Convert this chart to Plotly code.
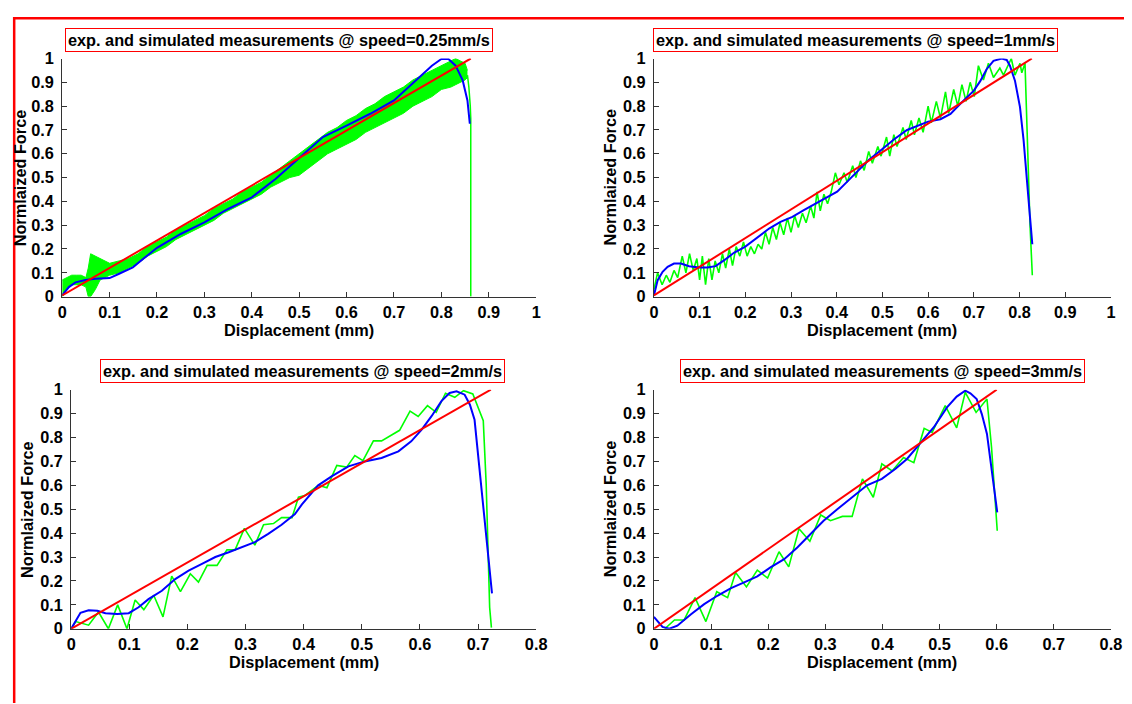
import plotly.graph_objects as go

# ---- speed = 0.25 mm/s (dense noisy experiment, drawn as an envelope band) ----
band_x_025 = [0.00, 0.01, 0.02, 0.03, 0.04, 0.05, 0.055, 0.06, 0.07, 0.08, 0.09, 0.10,
              0.12, 0.14, 0.16, 0.18, 0.20, 0.22, 0.24, 0.26, 0.28, 0.30,
              0.32, 0.34, 0.36, 0.38, 0.40, 0.42, 0.44, 0.46, 0.48, 0.50,
              0.52, 0.54, 0.56, 0.58, 0.60, 0.62, 0.64, 0.66, 0.68, 0.70,
              0.72, 0.74, 0.76, 0.78, 0.80, 0.82, 0.83, 0.84, 0.85, 0.855]
band_hi_025 = [0.07, 0.08, 0.09, 0.09, 0.09, 0.08, 0.12, 0.18, 0.17, 0.16, 0.15, 0.14,
               0.15, 0.16, 0.18, 0.21, 0.23, 0.25, 0.28, 0.30, 0.32, 0.34,
               0.37, 0.39, 0.41, 0.44, 0.46, 0.48, 0.51, 0.54, 0.57, 0.60,
               0.63, 0.66, 0.69, 0.71, 0.74, 0.76, 0.79, 0.81, 0.84, 0.86,
               0.88, 0.91, 0.93, 0.95, 0.97, 0.99, 1.00, 0.99, 0.98, 0.95]
band_lo_025 = [0.00, 0.03, 0.05, 0.05, 0.05, 0.04, 0.00, 0.00, 0.03, 0.07, 0.08, 0.09,
               0.10, 0.12, 0.14, 0.17, 0.19, 0.21, 0.24, 0.26, 0.28, 0.30,
               0.32, 0.35, 0.37, 0.39, 0.41, 0.43, 0.46, 0.48, 0.50, 0.51,
               0.54, 0.57, 0.60, 0.62, 0.64, 0.66, 0.69, 0.71, 0.73, 0.75,
               0.77, 0.80, 0.82, 0.84, 0.87, 0.88, 0.89, 0.90, 0.91, 0.92]
tail_x_025 = [0.855, 0.858, 0.861, 0.862, 0.862]
tail_y_025 = [0.93, 0.88, 0.80, 0.75, 0.0]
sim_x_025 = [0, 0.014, 0.028, 0.049, 0.07, 0.1, 0.119, 0.149, 0.175, 0.2, 0.25, 0.3, 0.35,
             0.4, 0.45, 0.5, 0.55, 0.6, 0.65, 0.7, 0.75, 0.78, 0.8, 0.815, 0.83, 0.845,
             0.855, 0.86]
sim_y_025 = [0.005, 0.04, 0.06, 0.07, 0.075, 0.078, 0.095, 0.123, 0.165, 0.205, 0.263,
             0.312, 0.368, 0.417, 0.494, 0.58, 0.67, 0.718, 0.768, 0.824, 0.914, 0.97,
             0.998, 0.998, 0.97, 0.908, 0.824, 0.726]
fit_x_025 = [0, 0.862]
fit_y_025 = [0.005, 1.0]

# ---- speed = 1 mm/s ----
exp_x_1 = [0.000, 0.008, 0.018, 0.027, 0.035, 0.044, 0.052, 0.062, 0.070, 0.078,
           0.086, 0.094, 0.100, 0.106, 0.113, 0.120, 0.127, 0.134, 0.142, 0.150,
           0.157, 0.165, 0.172, 0.180, 0.188, 0.196, 0.204, 0.212, 0.220, 0.228,
           0.236, 0.244, 0.252, 0.260, 0.268, 0.276, 0.284, 0.292, 0.300, 0.308,
           0.316, 0.325, 0.333, 0.343, 0.350, 0.357, 0.364, 0.372, 0.380, 0.388,
           0.397, 0.405, 0.416, 0.423, 0.435, 0.442, 0.452, 0.460, 0.470, 0.478,
           0.490, 0.497, 0.509, 0.516, 0.525, 0.532, 0.545, 0.552, 0.563, 0.570,
           0.580, 0.589, 0.600, 0.607, 0.618, 0.627, 0.638, 0.645, 0.656, 0.665,
           0.674, 0.683, 0.692, 0.701, 0.710, 0.721, 0.732, 0.743, 0.757, 0.765,
           0.782, 0.790, 0.801, 0.805, 0.812, 0.815, 0.819, 0.823, 0.828]
exp_y_1 = [0.03, 0.10, 0.05, 0.09, 0.06, 0.11, 0.08, 0.17, 0.10, 0.18,
           0.11, 0.16, 0.07, 0.17, 0.05, 0.16, 0.07, 0.15, 0.10, 0.18,
           0.12, 0.20, 0.13, 0.21, 0.17, 0.23, 0.17, 0.21, 0.18, 0.22,
           0.20, 0.27, 0.22, 0.29, 0.24, 0.31, 0.26, 0.33, 0.27, 0.34,
           0.29, 0.35, 0.31, 0.38, 0.33, 0.44, 0.36, 0.43, 0.39, 0.44,
           0.52, 0.47, 0.52, 0.48, 0.55, 0.50, 0.57, 0.53, 0.61, 0.56,
           0.63, 0.59, 0.67, 0.59, 0.68, 0.63, 0.71, 0.66, 0.74, 0.68,
           0.75, 0.69, 0.80, 0.73, 0.82, 0.75, 0.86, 0.77, 0.87, 0.80,
           0.89, 0.82, 0.90, 0.84, 0.97, 0.91, 0.98, 0.92, 0.96, 0.93,
           1.00, 0.93, 0.98, 0.94, 0.98, 0.80, 0.52, 0.30, 0.09]
sim_x_1 = [0, 0.008, 0.019, 0.030, 0.044, 0.059, 0.077, 0.099, 0.117, 0.135, 0.154,
           0.175, 0.200, 0.226, 0.252, 0.277, 0.303, 0.328, 0.354, 0.379, 0.401, 0.423,
           0.445, 0.470, 0.500, 0.525, 0.554, 0.600, 0.627, 0.649, 0.670, 0.700, 0.714,
           0.728, 0.743, 0.761, 0.772, 0.779, 0.790, 0.801, 0.809, 0.816, 0.823, 0.828]
sim_y_1 = [0.005, 0.068, 0.104, 0.125, 0.139, 0.139, 0.128, 0.122, 0.122, 0.128, 0.153,
           0.184, 0.21, 0.25, 0.286, 0.314, 0.335, 0.363, 0.392, 0.42, 0.441, 0.483,
           0.525, 0.574, 0.62, 0.66, 0.70, 0.735, 0.745, 0.767, 0.809, 0.865, 0.905,
           0.955, 0.99, 1.0, 0.994, 0.97, 0.907, 0.796, 0.655, 0.473, 0.333, 0.22]
fit_x_1 = [0, 0.827]
fit_y_1 = [0.005, 1.0]

# ---- speed = 2 mm/s ----
exp_x_2 = [0, 0.008, 0.030, 0.047, 0.064, 0.080, 0.096, 0.110, 0.125, 0.142, 0.158,
           0.173, 0.188, 0.205, 0.219, 0.234, 0.251, 0.268, 0.282, 0.298, 0.316, 0.331,
           0.348, 0.362, 0.380, 0.391, 0.402, 0.425, 0.440, 0.457, 0.474, 0.488, 0.502,
           0.520, 0.534, 0.551, 0.565, 0.583, 0.597, 0.613, 0.628, 0.644, 0.660, 0.675,
           0.691, 0.709, 0.714, 0.720, 0.723]
exp_y_2 = [0, 0.03, 0.015, 0.07, 0.0, 0.10, 0.0, 0.12, 0.08, 0.14, 0.05,
           0.22, 0.155, 0.23, 0.195, 0.265, 0.265, 0.33, 0.33, 0.42, 0.35, 0.435,
           0.44, 0.465, 0.465, 0.55, 0.557, 0.60, 0.59, 0.683, 0.676, 0.724, 0.703,
           0.786, 0.786, 0.81, 0.83, 0.91, 0.888, 0.933, 0.905, 0.985, 0.968, 0.996,
           0.982, 0.87, 0.605, 0.089, 0.005]
sim_x_2 = [0, 0.016, 0.030, 0.045, 0.059, 0.079, 0.099, 0.116, 0.133, 0.156, 0.179,
           0.202, 0.225, 0.248, 0.271, 0.294, 0.316, 0.339, 0.362, 0.385, 0.397, 0.425,
           0.448, 0.477, 0.505, 0.534, 0.563, 0.585, 0.603, 0.620, 0.637, 0.651, 0.663,
           0.677, 0.686, 0.694, 0.706, 0.717, 0.724]
sim_y_2 = [0, 0.067, 0.077, 0.075, 0.065, 0.062, 0.065, 0.09, 0.124, 0.159, 0.208,
           0.243, 0.271, 0.30, 0.32, 0.341, 0.362, 0.397, 0.435, 0.48, 0.52, 0.60,
           0.637, 0.679, 0.70, 0.714, 0.742, 0.784, 0.833, 0.889, 0.952, 0.986, 0.993,
           0.979, 0.937, 0.874, 0.574, 0.323, 0.148]
fit_x_2 = [0, 0.722]
fit_y_2 = [0, 1.0]

# ---- speed = 3 mm/s ----
exp_x_3 = [0.019, 0.036, 0.053, 0.072, 0.091, 0.110, 0.129, 0.143, 0.162, 0.181,
           0.199, 0.219, 0.236, 0.254, 0.273, 0.292, 0.309, 0.330, 0.347, 0.365,
           0.384, 0.399, 0.417, 0.437, 0.455, 0.473, 0.487, 0.510, 0.530, 0.545,
           0.564, 0.583, 0.591, 0.601]
exp_y_3 = [0.0, 0.037, 0.037, 0.13, 0.03, 0.155, 0.13, 0.235, 0.175, 0.245,
           0.212, 0.322, 0.259, 0.418, 0.366, 0.476, 0.452, 0.47, 0.47, 0.627,
           0.55, 0.69, 0.66, 0.716, 0.695, 0.838, 0.821, 0.933, 0.84, 0.989,
           0.905, 0.961, 0.759, 0.41]
sim_x_3 = [0, 0.015, 0.027, 0.041, 0.065, 0.088, 0.111, 0.135, 0.158, 0.181, 0.204,
           0.228, 0.251, 0.274, 0.297, 0.321, 0.344, 0.373, 0.399, 0.423, 0.443, 0.466,
           0.490, 0.513, 0.530, 0.545, 0.554, 0.565, 0.574, 0.583, 0.592, 0.601]
sim_y_3 = [0.05, 0.008, 0.0, 0.013, 0.061, 0.103, 0.138, 0.17, 0.194, 0.219, 0.257,
           0.291, 0.34, 0.396, 0.452, 0.5, 0.546, 0.6, 0.627, 0.669, 0.71, 0.773,
           0.843, 0.926, 0.971, 0.996, 0.985, 0.961, 0.898, 0.815, 0.661, 0.487]
fit_x_3 = [0, 0.6]
fit_y_3 = [0, 1.0]

titles = ["exp. and simulated measurements @ speed=0.25mm/s",
          "exp. and simulated measurements @ speed=1mm/s",
          "exp. and simulated measurements @ speed=2mm/s",
          "exp. and simulated measurements @ speed=3mm/s"]
x_label = "Displacement (mm)"
y_label = "Normlaized Force"

W, H = 1132, 704
GREEN, BLUE, RED = "#00ff00", "#0000ff", "#ff0000"
FONT = "Arial, Liberation Sans, sans-serif"
FS = 16.3

# the photographed page shows the figure slightly shrunk and shifted, so
# screen positions measured on the reference are mapped back to figure pixels
SX, OX = 0.988, 10.7
SY, OY = 0.974, 16.5

# panel boxes in screen pixels: (left, right, top, bottom, xmax)
panels = [(60, 535, 58, 296, 1.0), (653, 1111, 58, 296, 1.0),
          (69, 535, 389, 628, 0.8), (653, 1111, 389, 628, 0.8)]
title_pos = [(277, 39), (855, 39), (301, 370), (882, 370)]
ylab_x = [17.5, 609, 24.5, 609]

fig = go.Figure()


def px_x(p):
    return (p - OX) / SX / W


def px_y(p):
    return 1 - (p - OY) / SY / H


def add_line(x, y, color, width, k, **kw):
    fig.add_trace(go.Scatter(x=x, y=y, mode="lines", line=dict(color=color, width=width),
                             xaxis="x" if k == 1 else f"x{k}",
                             yaxis="y" if k == 1 else f"y{k}",
                             showlegend=False, hoverinfo="skip", **kw))


# panel 1: band of the noisy measurement
add_line(band_x_025, band_lo_025, GREEN, 1, 1)
add_line(band_x_025, band_hi_025, GREEN, 1, 1, fill="tonexty", fillcolor=GREEN)
add_line(tail_x_025, tail_y_025, GREEN, 1.5, 1)
add_line(sim_x_025, sim_y_025, BLUE, 2, 1)
add_line(fit_x_025, fit_y_025, RED, 2, 1)

for k, (ex, ey, sx, sy, fx, fy) in enumerate([
        (exp_x_1, exp_y_1, sim_x_1, sim_y_1, fit_x_1, fit_y_1),
        (exp_x_2, exp_y_2, sim_x_2, sim_y_2, fit_x_2, fit_y_2),
        (exp_x_3, exp_y_3, sim_x_3, sim_y_3, fit_x_3, fit_y_3)], start=2):
    add_line(ex, ey, GREEN, 1.6, k)
    add_line(sx, sy, BLUE, 2, k)
    add_line(fx, fy, RED, 2, k)

axis_style = dict(showline=True, linecolor="#333333", linewidth=1, ticks="inside",
                  ticklen=5, tickcolor="#333333", showgrid=False, zeroline=False,
                  mirror=False, dtick=0.1, tick0=0,
                  tickfont=dict(family=FONT, size=FS, color="black", weight="bold"))

layout = {}
annotations = []
for i, (l, r, t, b, xmax) in enumerate(panels):
    k = i + 1
    xa = "xaxis" if k == 1 else f"xaxis{k}"
    ya = "yaxis" if k == 1 else f"yaxis{k}"
    layout[xa] = dict(axis_style, domain=[px_x(l), px_x(r)], range=[0, xmax],
                      anchor="y" if k == 1 else f"y{k}", ticklabelstandoff=1)
    layout[ya] = dict(axis_style, domain=[px_y(b), px_y(t)], range=[0, 1],
                      anchor="x" if k == 1 else f"x{k}", ticklabelstandoff=4)
    tx, ty = title_pos[i]
    annotations.append(dict(text=titles[i], x=px_x(tx), y=px_y(ty), xref="paper",
                            yref="paper", showarrow=False, xanchor="center",
                            yanchor="middle", bordercolor=RED, borderwidth=1,
                            borderpad=2, bgcolor="white",
                            font=dict(family=FONT, size=FS, color="black", weight="bold")))
    annotations.append(dict(text=x_label, x=px_x((l + r) / 2), y=px_y(b + 33),
                            xref="paper", yref="paper", showarrow=False,
                            xanchor="center", yanchor="middle",
                            font=dict(family=FONT, size=FS, color="black", weight="bold")))
    annotations.append(dict(text=y_label, x=px_x(ylab_x[i]), y=px_y((t + b) / 2),
                            xref="paper", yref="paper", showarrow=False, textangle=-90,
                            xanchor="center", yanchor="middle",
                            font=dict(family=FONT, size=FS, color="black", weight="bold")))

# red frame along the top and left edges
shapes = [dict(type="line", xref="paper", yref="paper", x0=0, x1=1.0,
               y0=1 - 1.2 / H, y1=1 - 1.2 / H, line=dict(color=RED, width=2.5)),
          dict(type="line", xref="paper", yref="paper", x0=1.2 / W, x1=1.2 / W,
               y0=1, y1=0, line=dict(color=RED, width=2.5))]

fig.update_layout(width=W, height=H, autosize=False,
                  margin=dict(l=0, r=0, t=0, b=0),
                  paper_bgcolor="white", plot_bgcolor="white",
                  annotations=annotations, shapes=shapes, **layout)

fig.write_html("out.html")
